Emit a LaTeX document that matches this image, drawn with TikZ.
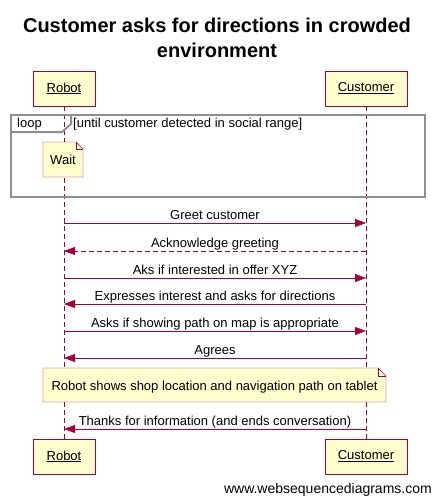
\documentclass[tikz,border=0pt]{standalone}
\usepackage{fontspec}
\setmainfont{Liberation Sans}
\usetikzlibrary{arrows.meta}
\definecolor{wsdred}{HTML}{A80036}
\definecolor{wsdfill}{HTML}{FEFECE}
\definecolor{wsdgray}{HTML}{8E8E8E}
\tikzset{
	actor/.style={draw=wsdred, fill=wsdfill, minimum height=35pt, inner sep=0pt, font=\fontsize{13}{15}\selectfont},
	lifeline/.style={draw=wsdred, dash pattern=on 5pt off 3pt},
	msg/.style={draw=wsdred, -{Triangle[length=11pt,width=8pt]}},
	reply/.style={msg, dash pattern=on 5pt off 3pt},
	txt/.style={inner sep=0pt, font=\fontsize{13}{15}\selectfont},
	lbl/.style={txt, anchor=base, yshift=4pt},
	notebox/.style={draw=wsdred, fill=wsdfill},
	frame/.style={draw=wsdgray, line width=2pt},
}
\begin{document}
\begin{tikzpicture}[x=1pt,y=-1pt]
	\useasboundingbox (0,0) rectangle (434,496);
	% title
	\node[anchor=base, font=\fontsize{20}{25}\bfseries\selectfont] (title1) at (217,32) {Customer asks for directions in crowded};
	\node[anchor=base, font=\fontsize{20}{25}\bfseries\selectfont] (title2) at (217,57) {environment};
	% participants
	\node[actor, minimum width=62pt] (robotTop) at (64,88.5) {\underline{Robot}};
	\node[actor, minimum width=82pt] (custTop) at (366,88.5) {\underline{Customer}};
	\node[actor, minimum width=62pt] (robotBot) at (64,456.5) {\underline{Robot}};
	\node[actor, minimum width=82pt] (custBot) at (366,456.5) {\underline{Customer}};
	\draw[lifeline] (robotTop) -- (robotBot);
	\draw[lifeline] (custTop) -- (custBot);
	% loop frame
	\draw[frame] (11,115) rectangle (425,197);
	\draw[frame] (11,132) -- (62,132) -- (71,124) -- (71,115);
	\node[txt, anchor=base west] (loop) at (17,127) {loop};
	\node[txt, anchor=base west] (guard) at (73,127) {[until customer detected in social range]};
	% notes
	\fill[wsdfill] (43,142) -- (76,142) -- (83,149) -- (83,177) -- (43,177) -- cycle;
	\draw[wsdred] (43,142) -- (76,142) -- (83,149) -- (83,177) -- (43,177) -- cycle;
	\draw[wsdred] (76,142) -- (76,149) -- (83,149);
	\node[txt, anchor=base] (wait) at (63,164) {Wait};
	\fill[wsdfill] (43,368) -- (378,368) -- (386,376) -- (386,402) -- (43,402) -- cycle;
	\draw[wsdred] (43,368) -- (378,368) -- (386,376) -- (386,402) -- (43,402) -- cycle;
	\draw[wsdred] (378,368) -- (378,376) -- (386,376);
	\node[txt, anchor=base] (shows) at (214.5,390) {Robot shows shop location and navigation path on tablet};
	% messages
	\foreach \i/\y in {1/223,2/251,3/278,4/304,5/331,6/358,7/429}{
		\coordinate (r\i) at (64,\y);
		\coordinate (c\i) at (366,\y);
	}
	\draw[msg] (r1) -- node[lbl] {Greet customer} (c1);
	\draw[reply] (c2) -- node[lbl] {Acknowledge greeting} (r2);
	\draw[msg] (r3) -- node[lbl] {Aks if interested in offer XYZ} (c3);
	\draw[msg] (c4) -- node[lbl] {Expresses interest and asks for directions} (r4);
	\draw[msg] (r5) -- node[lbl] {Asks if showing path on map is appropriate} (c5);
	\draw[msg] (c6) -- node[lbl] {Agrees} (r6);
	\draw[msg] (c7) -- node[lbl] {Thanks for information (and ends conversation)} (r7);
	% footer
	\node[anchor=base east, inner sep=0pt, font=\fontsize{14}{16}\selectfont] (footer) at (432,493) {www.websequencediagrams.com};
\end{tikzpicture}
\end{document}
